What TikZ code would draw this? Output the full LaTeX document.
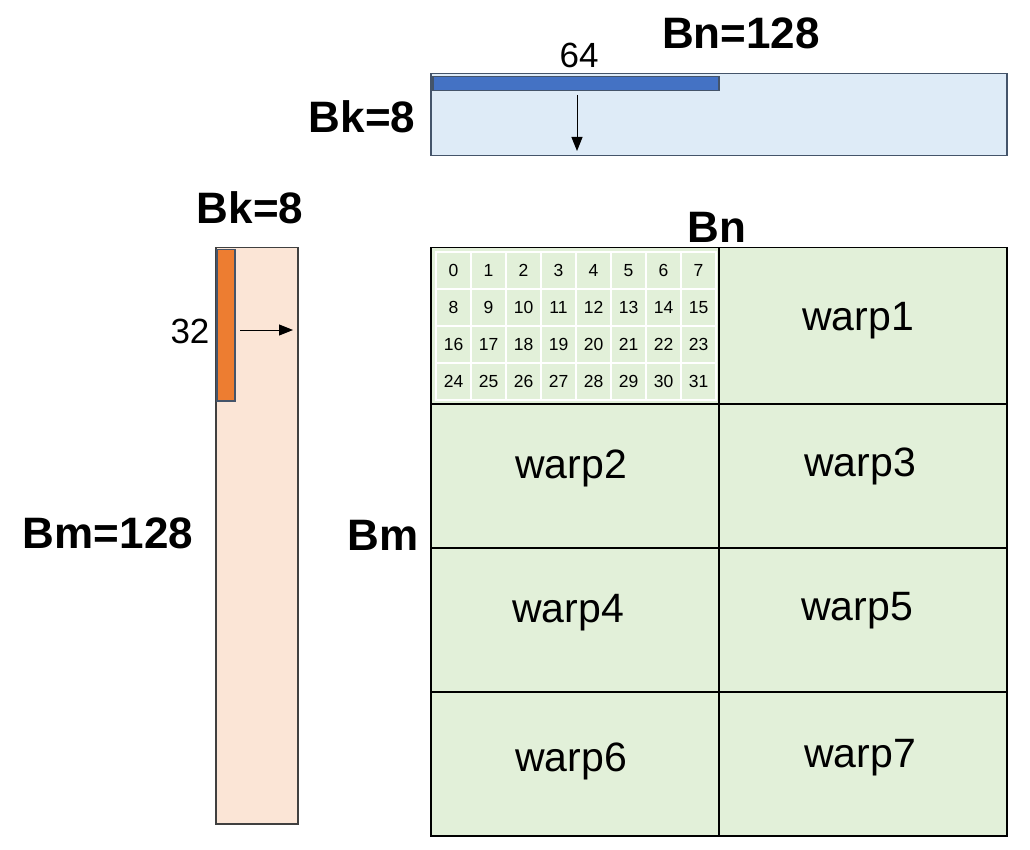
\documentclass[tikz,border=0pt]{standalone}
\usepackage{fontspec}
\setmainfont{Liberation Sans}
\usepackage{tikz}
\usetikzlibrary{arrows.meta, positioning}
\definecolor{bfill}{HTML}{DEEBF7}
\definecolor{bbarfill}{HTML}{4472C4}
\definecolor{afill}{HTML}{FBE5D6}
\definecolor{abarfill}{HTML}{ED7D31}
\definecolor{cfill}{HTML}{E2F0D9}
\definecolor{slate}{HTML}{44546A}
\tikzset{
  tilebox/.style={rectangle,anchor=north west,inner sep=0pt,line width=1.5pt},
  btile/.style={tilebox,draw=slate,fill=bfill},
  bbar/.style={tilebox,draw=slate,fill=bbarfill},
  atile/.style={tilebox,draw=black!75,fill=afill},
  abar/.style={tilebox,draw=slate,fill=abarfill},
  warpbox/.style={tilebox,draw=black,fill=cfill},
  cell/.style={rectangle,inner sep=0pt,minimum width=35,minimum height=37,
    text height=12.5pt,text depth=0pt,
    fill=cfill,draw=white,line width=1.5pt,font=\fontsize{17.5}{20}\selectfont},
  biglabel/.style={inner sep=0pt,font=\fontsize{44}{52}\selectfont\bfseries},
  warplabel/.style={inner sep=0pt,font=\fontsize{41}{48}\selectfont},
  numlabel/.style={inner sep=0pt,font=\fontsize{35}{40}\selectfont},
  arrow/.style={-{Triangle[length=14pt,width=11pt]},line width=1pt,draw=black}
}
\begin{document}
\begin{tikzpicture}[x=1pt,y=-1pt]
  \useasboundingbox (0,0) rectangle (1030,850);

  % tile of B
  \node[btile,minimum width=576,minimum height=82] (btile) at (430,73) {};
  \node[bbar,minimum width=286,minimum height=14] (bbar) at (432,76) {};
  \node[numlabel] (n64) at (579,55) {64};
  \node[biglabel] (bn128) at (741,33) {Bn=128};
  \node[biglabel] (bk8top) at (362,117) {Bk=8};
  \coordinate (bfrom) at (577,95);
  \coordinate (bto) at (577,151);
  \draw[arrow] (bfrom) -- (bto);

  % tile of A
  \node[atile,minimum width=82,minimum height=576] (atile) at (215,247) {};
  \node[abar,minimum width=18,minimum height=151] (abar) at (216,249) {};
  \node[numlabel] (n32) at (190,331) {32};
  \node[biglabel] (bk8left) at (250,208) {Bk=8};
  \node[biglabel] (bm128) at (108,533) {Bm=128};
  \coordinate (afrom) at (240,330);
  \coordinate (ato) at (293,330);
  \draw[arrow] (afrom) -- (ato);

  % tile of C, split into warps
  \node[biglabel] (bn) at (717,227) {Bn};
  \node[biglabel] (bm) at (383,535) {Bm};
  \node[warpbox,minimum width=288,minimum height=156] (warp0) at (430,247) {};
  \node[warpbox,minimum width=288,minimum height=156] (warp1) at (718,247) {};
  \node[warpbox,minimum width=288,minimum height=144] (warp2) at (430,403) {};
  \node[warpbox,minimum width=288,minimum height=144] (warp3) at (718,403) {};
  \node[warpbox,minimum width=288,minimum height=144] (warp4) at (430,547) {};
  \node[warpbox,minimum width=288,minimum height=144] (warp5) at (718,547) {};
  \node[warpbox,minimum width=288,minimum height=144] (warp6) at (430,691) {};
  \node[warpbox,minimum width=288,minimum height=144] (warp7) at (718,691) {};
  \node[warplabel] (lbl1) at (858,321) {warp1};
  \node[warplabel] (lbl2) at (571,468) {warp2};
  \node[warplabel] (lbl3) at (860,466) {warp3};
  \node[warplabel] (lbl4) at (568,613) {warp4};
  \node[warplabel] (lbl5) at (857,611) {warp5};
  \node[warplabel] (lbl6) at (571,761) {warp6};
  \node[warplabel] (lbl7) at (860,758) {warp7};

  % threads of warp0
  \foreach \n in {0,...,31} {
    \pgfmathtruncatemacro{\col}{mod(\n,8)}
    \pgfmathtruncatemacro{\row}{div(\n,8)}
    \node[cell] (t\n) at ({453.5+35*\col},{270.5+37*\row}) {\n};
  }
\end{tikzpicture}
\end{document}
